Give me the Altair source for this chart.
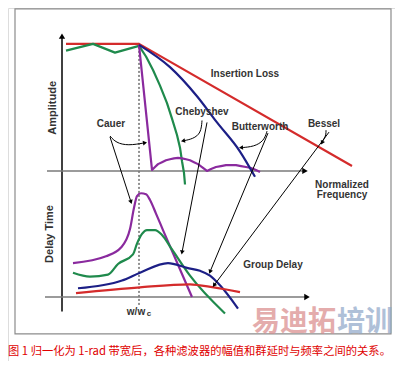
import math
import altair as alt
import pandas as pd

# ---------------- coordinate frame of the schematic (x right, y down) ----------------
X_DOMAIN = [8, 395]
Y_DOMAIN = [368, 4]
W, H = 387, 353

# ---------------- amplitude responses ----------------
amp_insertion_x = [66, 139, 352]
amp_insertion_y = [41, 41, 167]
amp_cheb_x = [66, 93, 115, 139, 146, 153, 160, 167, 172, 177, 180, 182, 184, 185]
amp_cheb_y = [48, 41, 50, 43, 54, 68, 84, 102, 118, 135, 148, 162, 174, 186]
amp_butter_x = [139, 170, 197, 217, 240, 255]
amp_butter_y = [42, 65, 95, 122, 152, 178]
amp_cauer_x = [139, 152, 155, 158, 162, 166, 170, 174, 178, 182, 186, 190, 194, 198, 202, 207,
               211, 216, 221, 226, 231, 236, 241, 246, 251, 256, 260]
amp_cauer_y = [42, 171, 168, 165, 163, 161, 160, 159, 158.5, 159, 160, 161, 163, 165, 168, 172,
               170, 168, 167, 166, 166, 166, 167, 168, 169, 171, 173]

# ---------------- group delay ----------------
gd_cauer_x = [73, 106, 121, 130, 134, 137, 141, 146, 150, 156, 163, 192]
gd_cauer_y = [267, 260, 251, 232, 210, 198, 195, 196, 202, 216, 233, 302]
gd_cheb_x = [73, 90, 108, 118, 133, 137, 142, 147, 155, 162, 172, 190, 225]
gd_cheb_y = [277, 281, 279, 268, 258, 247, 237, 233, 233, 238, 253, 280, 319]
gd_butter_x = [78, 122, 140, 168, 187, 200, 210, 220, 238]
gd_butter_y = [293, 285, 277, 267, 272, 275, 280, 290, 314]
gd_bessel_x = [76, 140, 190, 200, 240]
gd_bessel_y = [298, 292, 289, 290, 297]

linear_series = [
    ("amp_insertion", amp_insertion_x, amp_insertion_y, "#d42b2b"),
    ("amp_cheb", amp_cheb_x, amp_cheb_y, "#1f8a4c"),
    ("amp_cauer", amp_cauer_x, amp_cauer_y, "#8a2a9e"),
]
smooth_series = [
    ("amp_butter", amp_butter_x, amp_butter_y, "#1c1f86"),
    ("gd_cauer", gd_cauer_x, gd_cauer_y, "#8a2a9e"),
    ("gd_cheb", gd_cheb_x, gd_cheb_y, "#1f8a4c"),
    ("gd_butter", gd_butter_x, gd_butter_y, "#1c1f86"),
    ("gd_bessel", gd_bessel_x, gd_bessel_y, "#d42b2b"),
]

# ---------------- annotation pointers ----------------
straight_ptrs = {
    "cauer": ([110, 131], [137, 204]),
    "cheb": ([207, 182], [122, 256]),
    "butter": ([268, 210], [133, 276]),
    "bessel": ([329, 214], [132, 290]),
}
curved_ptrs = {
    "cauer_c": ([110, 116, 128, 145], [136, 143, 146, 143]),
    "cheb_c": ([202, 201, 193, 183], [120, 133, 139, 141]),
    "butter_c": ([267, 264, 254, 241], [131, 141, 147, 148]),
    "bessel_c": ([326, 326, 324, 322], [130, 135, 139, 143]),
}

# ---------------- axes / frame ----------------
frame_x = [15, 391]
frame_y = [5, 340]
amp_vaxis = ([62, 62], [317, 33])
amp_haxis = ([47, 305], [172, 172])
gd_haxis = ([45, 307], [302, 302])
cutoff_line = ([139, 139], [40, 312])

# ---------------- text ----------------
bold10_text = ["Insertion Loss", "Cauer", "Chebyshev", "Butterworth", "Bessel",
               "Normalized", "Frequency", "Group Delay", "w/w"]
bold10_x = [245, 111, 202, 260, 324, 342, 342, 273, 136]
bold10_y = [72, 124, 111, 127, 124, 186, 197, 269, 317]
axis_titles = ["Amplitude", "Delay Time"]
axis_titles_x = [53, 50]
axis_titles_y = [107, 237]
caption = "图 1 归一化为 1-rad 带宽后，各种滤波器的幅值和群延时与频率之间的关系。"
watermark = ["易迪拓", "培训"]
watermark_x = [294, 365]
watermark_y = [329, 329]

# ============================================================
xs = alt.Scale(domain=X_DOMAIN, nice=False, zero=False)
ys = alt.Scale(domain=Y_DOMAIN, nice=False, zero=False)
X = lambda f="x": alt.X(f"{f}:Q", scale=xs, axis=None)
Y = lambda f="y": alt.Y(f"{f}:Q", scale=ys, axis=None)


def series_df(ser):
    rows = []
    for name, xv, yv, col in ser:
        for i, (a, b) in enumerate(zip(xv, yv)):
            rows.append({"name": name, "x": a, "y": b, "i": i, "col": col})
    return pd.DataFrame(rows)


def lines_df(d):
    r = []
    for name, (xv, yv) in d.items():
        for i, (a, b) in enumerate(zip(xv, yv)):
            r.append({"name": name, "x": a, "y": b, "i": i})
    return pd.DataFrame(r)


def heads_df(d):
    r = []
    for name, (xv, yv) in d.items():
        dx = xv[-1] - xv[-2]
        dy = yv[-1] - yv[-2]
        ang = math.degrees(math.atan2(dx, -dy)) % 360
        r.append({"name": name, "x": xv[-1], "y": yv[-1], "angle": ang})
    return pd.DataFrame(r)


straight_df = lines_df(straight_ptrs)
curved_df = lines_df(curved_ptrs)
heads = pd.concat([heads_df(straight_ptrs), heads_df(curved_ptrs)], ignore_index=True)
axis_heads = heads_df({"v": amp_vaxis, "h1": amp_haxis, "h2": gd_haxis})

frame = alt.Chart(pd.DataFrame({"x": [frame_x[0]], "x2": [frame_x[1]],
                                "y": [frame_y[0]], "y2": [frame_y[1]]})).mark_rect(
    fill="white", fillOpacity=0, stroke="#8c8c8c", strokeWidth=1.2
).encode(x=X(), x2="x2:Q", y=Y(), y2="y2:Q")


def seg(xv, yv, **kw):
    return alt.Chart(pd.DataFrame({"x": xv, "y": yv, "i": list(range(len(xv)))})).mark_line(**kw).encode(
        x=X(), y=Y(), order="i:Q")


vaxis = seg(*amp_vaxis, color="black", strokeWidth=1.5)
haxis1 = seg(*amp_haxis, color="#7a7a7a", strokeWidth=1.5)
haxis2 = seg(*gd_haxis, color="#7a7a7a", strokeWidth=1.5)
cutoff = seg(*cutoff_line, color="#222", strokeWidth=1, strokeDash=[2, 2])

curves_lin = alt.Chart(series_df(linear_series)).mark_line(strokeWidth=2.2, strokeJoin="round").encode(
    x=X(), y=Y(), detail="name:N", order="i:Q", color=alt.Color("col:N", scale=None))
curves_smooth = alt.Chart(series_df(smooth_series)).mark_line(strokeWidth=2.2, interpolate="monotone").encode(
    x=X(), y=Y(), detail="name:N", order="i:Q", color=alt.Color("col:N", scale=None))

straight = alt.Chart(straight_df).mark_line(color="black", strokeWidth=1).encode(
    x=X(), y=Y(), detail="name:N", order="i:Q")
curved = alt.Chart(curved_df).mark_line(color="black", strokeWidth=1, interpolate="basis").encode(
    x=X(), y=Y(), detail="name:N", order="i:Q")
arrowheads = alt.Chart(heads).mark_point(shape="triangle-up", filled=True, color="black",
                                         opacity=1, size=22).encode(
    x=X(), y=Y(), angle=alt.Angle("angle:Q", scale=None))
axis_arrowheads = alt.Chart(axis_heads).mark_point(shape="triangle-up", filled=True, color="black",
                                                   opacity=1, size=40).encode(
    x=X(), y=Y(), angle=alt.Angle("angle:Q", scale=None))

FONT = "Liberation Sans"
labels = alt.Chart(pd.DataFrame({"t": bold10_text, "x": bold10_x, "y": bold10_y})).mark_text(
    font=FONT, fontSize=10, fontWeight="bold", color="#333333").encode(x=X(), y=Y(), text="t:N")
sub_c = alt.Chart(pd.DataFrame({"t": ["c"], "x": [149], "y": [320]})).mark_text(
    font=FONT, fontSize=8, fontWeight="bold", color="#333333").encode(x=X(), y=Y(), text="t:N")
titles = alt.Chart(pd.DataFrame({"t": axis_titles, "x": axis_titles_x, "y": axis_titles_y})).mark_text(
    font=FONT, fontSize=11, fontWeight="bold", color="#333333", angle=270).encode(x=X(), y=Y(), text="t:N")

wm = alt.Chart(pd.DataFrame({"t": watermark, "x": watermark_x, "y": watermark_y,
                             "c": ["#d98a8a", "#8ea6c8"]})).mark_text(
    font="Noto Sans CJK SC", fontSize=28, fontWeight="bold", opacity=0.7).encode(
    x=X(), y=Y(), text="t:N", color=alt.Color("c:N", scale=None))

cap = alt.Chart(pd.DataFrame({"t": [caption], "x": [8], "y": [359]})).mark_text(
    font="Noto Sans CJK SC", fontSize=11.3, color="#e00000", align="left").encode(
    x=X(), y=Y(), text="t:N")

chart = alt.layer(
    frame, wm, cutoff, vaxis, haxis1, haxis2, axis_arrowheads,
    curves_lin, curves_smooth, straight, curved, arrowheads, labels, sub_c, titles, cap
).properties(width=W, height=H, padding=0, autosize=alt.AutoSizeParams(type="none")).configure_view(
    stroke=None).configure(background="white")

chart.save("out.html", embed_options={"renderer": "svg", "actions": False})
